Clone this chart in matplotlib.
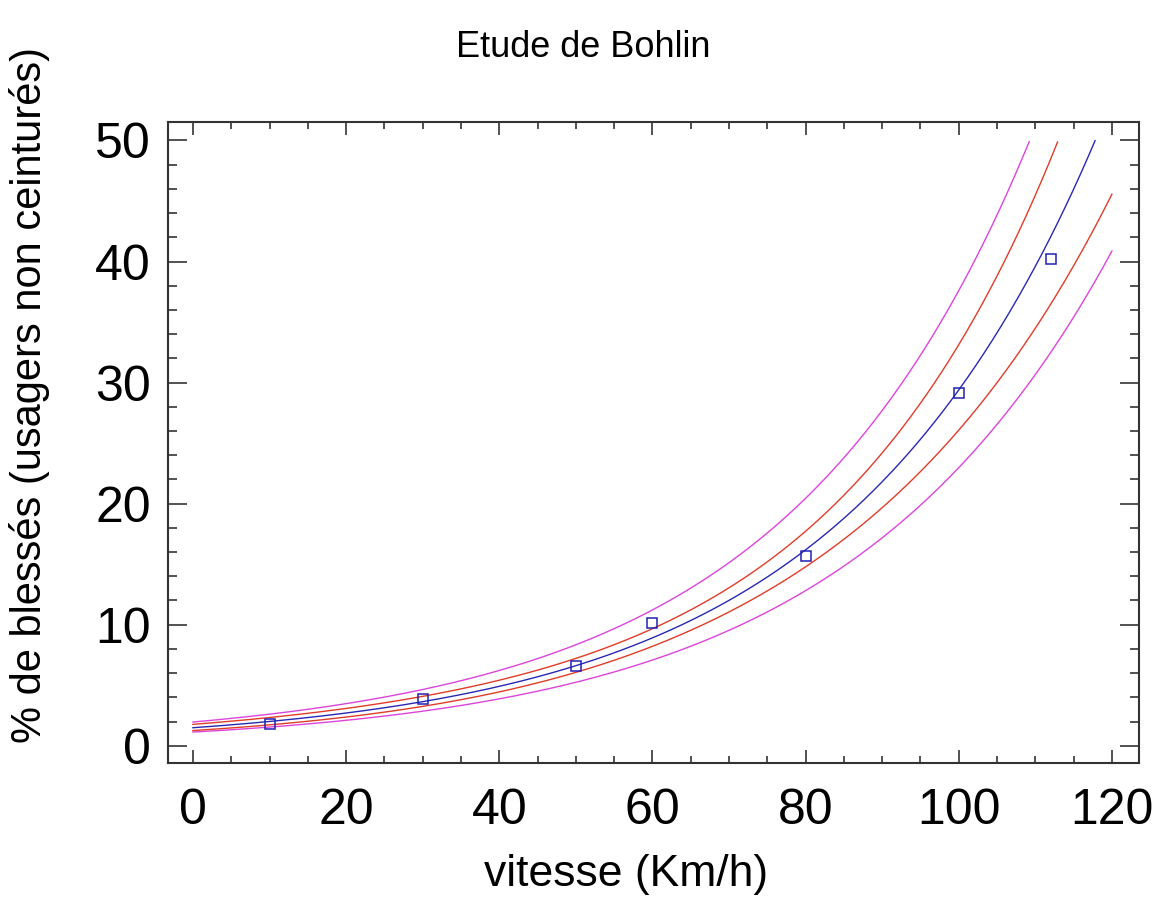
import matplotlib
matplotlib.use("Agg")
import matplotlib.pyplot as plt
import numpy as np
from matplotlib.ticker import MultipleLocator

# Bohlin study: speed (km/h) vs % injured among unbelted occupants
SPEED = [10, 30, 50, 60, 80, 100, 112]
INJURED_PCT = [1.8, 3.9, 6.6, 10.1, 15.7, 29.1, 40.2]

TITLE = "Etude de Bohlin"
XLABEL = "vitesse (Km/h)"
YLABEL = "% de blessés (usagers non ceinturés)"

X_TICKS = [0, 20, 40, 60, 80, 100, 120]
Y_TICKS = [0, 10, 20, 30, 40, 50]

T_975_DF5 = 2.5706  # Student t, 95 % two-sided, n - 2 = 5 dof
Y_CUT = 50


def exp_fit_bands(x, y, grid):
    """Exponential model y = exp(a + b x), fitted on ln(y), with 95 %
    confidence and prediction limits transformed back."""
    x = np.asarray(x, float)
    ly = np.log(np.asarray(y, float))
    b, a = np.polyfit(x, ly, 1)
    n = len(x)
    resid = ly - (a + b * x)
    s = np.sqrt(np.sum(resid ** 2) / (n - 2))
    sxx = np.sum((x - x.mean()) ** 2)
    lev = 1.0 / n + (grid - x.mean()) ** 2 / sxx
    fit = a + b * grid
    conf = T_975_DF5 * s * np.sqrt(lev)
    pred = T_975_DF5 * s * np.sqrt(1 + lev)
    return {
        "fit": np.exp(fit),
        "conf_lo": np.exp(fit - conf),
        "conf_hi": np.exp(fit + conf),
        "pred_lo": np.exp(fit - pred),
        "pred_hi": np.exp(fit + pred),
    }


plt.rcParams["font.family"] = ["Liberation Sans", "DejaVu Sans"]

fig = plt.figure(figsize=(11.57, 9.09), dpi=100)
ax = fig.add_axes([0.1449, 0.1603, 0.8393, 0.7058])

grid = np.linspace(0, 120, 1201)
bands = exp_fit_bands(SPEED, INJURED_PCT, grid)


def cut(v):
    return np.where(v <= Y_CUT, v, np.nan)


ax.plot(grid, cut(bands["pred_hi"]), color="#dc44dc", lw=1.0)
ax.plot(grid, cut(bands["pred_lo"]), color="#dc44dc", lw=1.0)
ax.plot(grid, cut(bands["conf_hi"]), color="#e03c28", lw=1.0)
ax.plot(grid, cut(bands["conf_lo"]), color="#e03c28", lw=1.0)
ax.plot(grid, cut(bands["fit"]), color="#2828b4", lw=1.0)
ax.plot(SPEED, INJURED_PCT, ls="none", marker="s", ms=7,
        mfc="none", mec="#2020b4", mew=1.1)

ax.set_xlim(-3.3, 123.5)
ax.set_ylim(-1.45, 51.55)
ax.set_xticks(X_TICKS)
ax.set_yticks(Y_TICKS)
ax.xaxis.set_minor_locator(MultipleLocator(5))
ax.yaxis.set_minor_locator(MultipleLocator(2))

for s in ax.spines.values():
    s.set_color("#333333")
    s.set_linewidth(1.5)

ax.tick_params(axis="both", which="both", direction="in", top=True,
               right=True, color="#222222", width=1.1, labelsize=36)
ax.tick_params(axis="x", which="major", length=9.5, pad=18)
ax.tick_params(axis="x", which="minor", length=5)
ax.tick_params(axis="y", which="major", length=13.5, pad=12)
ax.tick_params(axis="y", which="minor", length=6.5)

fig.text(0.504, 0.948, TITLE, ha="center", va="center", fontsize=26)

ax.set_xlabel(XLABEL, fontsize=32, va="center")
ax.xaxis.set_label_coords(0.472, -0.174)
ax.set_ylabel(YLABEL, fontsize=30, va="center")
ax.yaxis.set_label_coords(-0.142, 0.574)

fig.savefig("out.png", dpi=100, facecolor="white")
